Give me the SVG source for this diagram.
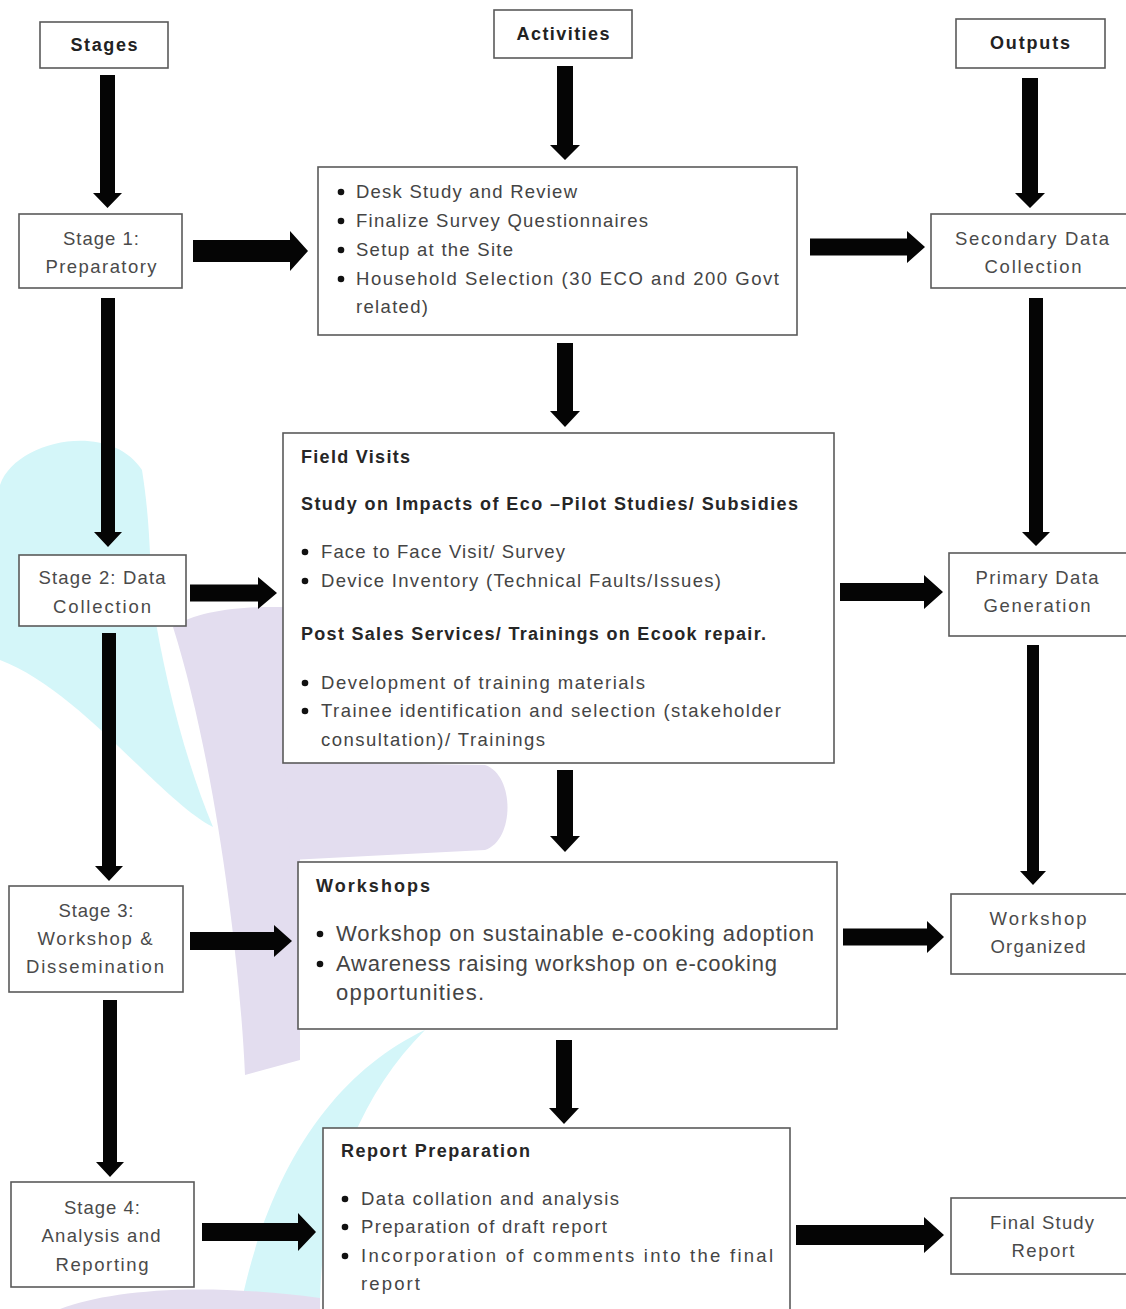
<svg xmlns="http://www.w3.org/2000/svg" width="1126" height="1309" viewBox="0 0 1126 1309">
<style>
.box{fill:#fff;stroke:#5a5a5a;stroke-width:1.6}
.hdr{font-family:"Liberation Sans",Arial,sans-serif;font-size:18px;font-weight:bold;fill:#222}
.lbl{font-family:"Liberation Sans",Arial,sans-serif;font-size:18.5px;fill:#4a4a4a;text-anchor:middle}
.txt{font-family:"Liberation Sans",Arial,sans-serif;font-size:18.5px;fill:#444}
.big{font-family:"Liberation Sans",Arial,sans-serif;font-size:22px;fill:#444}
.bh{font-family:"Liberation Sans",Arial,sans-serif;font-size:18px;font-weight:bold;fill:#262626}
.dot{fill:#111}
.arr{fill:#050505}
.cy{fill:#d4f6f9}
.lv{fill:#e3ddef}
</style>
<rect width="1126" height="1309" fill="#fff"/>
<g id="watermark">
<path class="cy" d="M0,485 C15,440 110,420 142,470 C150,520 150,560 152,600 C165,680 185,760 213,827 C160,800 80,690 0,660 Z"/>
<path class="cy" d="M425,1030 C340,1070 270,1160 240,1309 L320,1309 C320,1200 355,1100 425,1030 Z"/>
<path class="lv" d="M173,627 C200,608 260,605 300,608 L300,1060 L245,1075 C240,960 215,760 173,627 Z"/>
<path class="lv" d="M285,762 L485,765 C515,775 515,840 485,850 L290,860 Z"/>
<path class="lv" d="M60,1309 C110,1290 200,1282 320,1298 L320,1309 Z"/>
</g>
<g id="connectors">
<polygon class="arr" points="100,75 115,75 115,193 122,193 107.5,208 93,193 100,193"/>
<polygon class="arr" points="557,66 573,66 573,145 580,145 565,160 550,145 557,145"/>
<polygon class="arr" points="1022,78 1038,78 1038,193 1045,193 1030,208 1015,193 1022,193"/>
<polygon class="arr" points="101,298 115,298 115,532 122,532 108,547 94,532 101,532"/>
<polygon class="arr" points="102,633 116,633 116,866 123,866 109,881 95,866 102,866"/>
<polygon class="arr" points="103,1000 117,1000 117,1162 124,1162 110,1177 96,1162 103,1162"/>
<polygon class="arr" points="557,343 573,343 573,411 580,411 565,427 550,411 557,411"/>
<polygon class="arr" points="557,770 573,770 573,836 580,836 565,852 550,836 557,836"/>
<polygon class="arr" points="556,1040 572,1040 572,1108 579,1108 564,1124 549,1108 556,1108"/>
<polygon class="arr" points="1029,298 1043,298 1043,532 1050,532 1036,546 1022,532 1029,532"/>
<polygon class="arr" points="1027,645 1039,645 1039,871 1046,871 1033,885 1020,871 1027,871"/>
<polygon class="arr" points="193,240 290,240 290,231 308,251 290,271 290,262 193,262"/>
<polygon class="arr" points="810,238.5 907,238.5 907,231 925,247 907,263 907,255.5 810,255.5"/>
<polygon class="arr" points="190,584.5 258,584.5 258,577 277,593 258,609 258,601.5 190,601.5"/>
<polygon class="arr" points="840,583 924,583 924,575 943,592 924,609 924,601 840,601"/>
<polygon class="arr" points="190,932 274,932 274,925 292,941 274,957 274,950 190,950"/>
<polygon class="arr" points="843,928.5 927,928.5 927,921 944,937 927,953 927,945.5 843,945.5"/>
<polygon class="arr" points="202,1223 298,1223 298,1213 316,1232 298,1251 298,1241 202,1241"/>
<polygon class="arr" points="796,1225 924,1225 924,1217 944,1235 924,1253 924,1245 796,1245"/>
</g>
<g id="stages-header">
<rect class="box" x="40" y="22" width="128" height="46"/>
<text class="hdr" x="104" y="51" text-anchor="middle" textLength="67">Stages</text>
</g>
<g id="activities-header">
<rect class="box" x="494" y="10" width="138" height="48"/>
<text class="hdr" x="563" y="40" text-anchor="middle" textLength="93">Activities</text>
</g>
<g id="outputs-header">
<rect class="box" x="956" y="19" width="149" height="49"/>
<text class="hdr" x="1030" y="49" text-anchor="middle" textLength="80">Outputs</text>
</g>
<g id="stage1">
<rect class="box" x="19" y="214" width="163" height="74"/>
<text class="lbl" x="101" y="245" textLength="76">Stage 1:</text>
<text class="lbl" x="101" y="273" textLength="111">Preparatory</text>
</g>
<g id="preparatory-activities">
<rect class="box" x="318" y="167" width="479" height="168"/>
<circle class="dot" cx="341" cy="192" r="3.3"/>
<circle class="dot" cx="341" cy="221" r="3.3"/>
<circle class="dot" cx="341" cy="250" r="3.3"/>
<circle class="dot" cx="341" cy="279" r="3.3"/>
<text class="txt" x="356" y="198" textLength="221">Desk Study and Review</text>
<text class="txt" x="356" y="227" textLength="292">Finalize Survey Questionnaires</text>
<text class="txt" x="356" y="256" textLength="157">Setup at the Site</text>
<text class="txt" x="356" y="285" textLength="423">Household Selection (30 ECO and 200 Govt</text>
<text class="txt" x="356" y="313" textLength="72">related)</text>
</g>
<g id="secondary-data">
<rect class="box" x="931" y="214" width="200" height="74"/>
<text class="lbl" x="1032" y="245" textLength="154">Secondary Data</text>
<text class="lbl" x="1033" y="273" textLength="97">Collection</text>
</g>
<g id="stage2">
<rect class="box" x="19" y="555" width="167" height="71"/>
<text class="lbl" x="102" y="584" textLength="127">Stage 2: Data</text>
<text class="lbl" x="102" y="613" textLength="98">Collection</text>
</g>
<g id="field-visits">
<rect class="box" x="283" y="433" width="551" height="330"/>
<text class="bh" x="301" y="463" textLength="109">Field Visits</text>
<text class="bh" x="301" y="510" textLength="497">Study on Impacts of Eco –Pilot Studies/ Subsidies</text>
<circle class="dot" cx="305" cy="552" r="3.3"/>
<circle class="dot" cx="305" cy="581" r="3.3"/>
<text class="txt" x="321" y="558" textLength="244">Face to Face Visit/ Survey</text>
<text class="txt" x="321" y="587" textLength="400">Device Inventory (Technical Faults/Issues)</text>
<text class="bh" x="301" y="640" textLength="465">Post Sales Services/ Trainings on Ecook repair.</text>
<circle class="dot" cx="305" cy="683" r="3.3"/>
<circle class="dot" cx="305" cy="711" r="3.3"/>
<text class="txt" x="321" y="689" textLength="324">Development of training materials</text>
<text class="txt" x="321" y="717" textLength="460">Trainee identification and selection (stakeholder</text>
<text class="txt" x="321" y="746" textLength="224">consultation)/ Trainings</text>
</g>
<g id="primary-data">
<rect class="box" x="949" y="553" width="182" height="83"/>
<text class="lbl" x="1037" y="584" textLength="123">Primary Data</text>
<text class="lbl" x="1037" y="612" textLength="107">Generation</text>
</g>
<g id="stage3">
<rect class="box" x="9" y="886" width="174" height="106"/>
<text class="lbl" x="96" y="917" textLength="75">Stage 3:</text>
<text class="lbl" x="95" y="945" textLength="115">Workshop &amp;</text>
<text class="lbl" x="95" y="973" textLength="138">Dissemination</text>
</g>
<g id="workshops">
<rect class="box" x="298" y="862" width="539" height="167"/>
<text class="bh" x="316" y="892" textLength="114">Workshops</text>
<circle class="dot" cx="320" cy="934" r="3.3"/>
<circle class="dot" cx="320" cy="964" r="3.3"/>
<text class="big" x="336" y="941" textLength="478">Workshop on sustainable e-cooking adoption</text>
<text class="big" x="336" y="971" textLength="441">Awareness raising workshop on e-cooking</text>
<text class="big" x="336" y="1000" textLength="148">opportunities.</text>
</g>
<g id="workshop-organized">
<rect class="box" x="951" y="894" width="180" height="80"/>
<text class="lbl" x="1038" y="925" textLength="97">Workshop</text>
<text class="lbl" x="1038" y="953" textLength="95">Organized</text>
</g>
<g id="stage4">
<rect class="box" x="11" y="1182" width="183" height="105"/>
<text class="lbl" x="102" y="1214" textLength="76">Stage 4:</text>
<text class="lbl" x="101" y="1242" textLength="119">Analysis and</text>
<text class="lbl" x="102" y="1271" textLength="93">Reporting</text>
</g>
<g id="report-preparation">
<rect class="box" x="323" y="1128" width="467" height="200"/>
<text class="bh" x="341" y="1157" textLength="189">Report Preparation</text>
<circle class="dot" cx="345" cy="1199" r="3.3"/>
<circle class="dot" cx="345" cy="1227" r="3.3"/>
<circle class="dot" cx="345" cy="1256" r="3.3"/>
<text class="txt" x="361" y="1205" textLength="258">Data collation and analysis</text>
<text class="txt" x="361" y="1233" textLength="246">Preparation of draft report</text>
<text class="txt" x="361" y="1262" textLength="412">Incorporation of comments into the final</text>
<text class="txt" x="361" y="1290" textLength="59">report</text>
</g>
<g id="final-report">
<rect class="box" x="951" y="1198" width="180" height="76"/>
<text class="lbl" x="1042" y="1229" textLength="104">Final Study</text>
<text class="lbl" x="1043" y="1257" textLength="63">Report</text>
</g>
</svg>
